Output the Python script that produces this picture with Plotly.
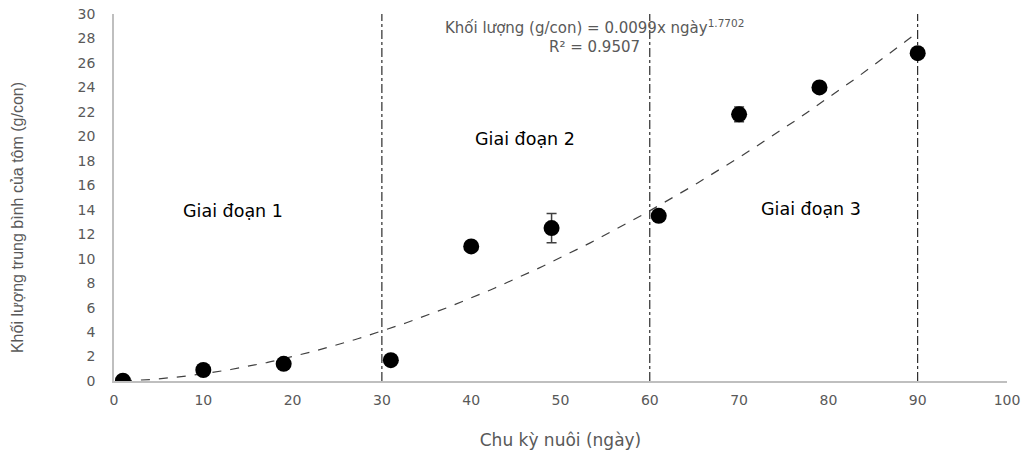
import numpy as np
import plotly.graph_objects as go

# Data
days = [1, 10, 19, 31, 40, 49, 61, 70, 79, 90]
weight = [0.02, 0.9, 1.4, 1.7, 11.0, 12.5, 13.5, 21.8, 24.0, 26.8]
weight_err = [0, 0, 0, 0, 0, 1.2, 0, 0.6, 0, 0]

# Power trendline coefficients from the chart label
coef_a = 0.0099
coef_b = 1.7702
trend_x = np.linspace(1, 90, 200)
trend_y = coef_a * trend_x ** coef_b

phase_bounds = [30, 60, 90]
phase_labels = ["Giai đoạn 1", "Giai đoạn 2", "Giai đoạn 3"]
phase_pos = [(13.3, 13.9), (46.0, 19.8), (78.0, 14.1)]

x_ticks = list(range(0, 101, 10))
y_ticks = list(range(0, 31, 2))

FONT = "DejaVu Sans"
GRAY = "#595959"

fig = go.Figure()

for xb in phase_bounds:
    fig.add_trace(go.Scatter(x=[xb, xb], y=[0, 30], mode="lines",
                             line=dict(color="black", width=1, dash="dashdot"),
                             hoverinfo="skip", showlegend=False))

fig.add_trace(go.Scatter(x=trend_x, y=trend_y, mode="lines",
                         line=dict(color="#404040", width=1.2, dash="dash"),
                         showlegend=False))

fig.add_trace(go.Scatter(x=days, y=weight, mode="markers",
                         marker=dict(color="black", size=16, symbol="circle"),
                         error_y=dict(type="data", array=weight_err, visible=True,
                                      color="#404040", thickness=1.5, width=5),
                         showlegend=False))

for lab, (px, py) in zip(phase_labels, phase_pos):
    fig.add_annotation(x=px, y=py, text=lab, showarrow=False,
                       font=dict(family=FONT, size=17.5, color="black"))

fig.add_annotation(x=53.8, y=28.9,
                   text=f"Khối lượng (g/con) = {coef_a}x ngày<sup>{coef_b}</sup>",
                   showarrow=False, font=dict(family=FONT, size=15, color=GRAY))
fig.add_annotation(x=53.8, y=27.3, text="R² = 0.9507", showarrow=False,
                   font=dict(family=FONT, size=15, color=GRAY))

# y-axis title placed as a rotated annotation
fig.add_annotation(xref="paper", yref="paper", x=-0.1086, y=0.444,
                   xanchor="center", yanchor="middle",
                   text="Khối lượng trung bình của tôm (g/con)", textangle=-90,
                   showarrow=False,
                   font=dict(family="Liberation Sans Narrow, Liberation Sans", size=16, color=GRAY))

fig.update_layout(
    width=1028, height=461,
    margin=dict(l=114, r=21, t=14, b=80),
    paper_bgcolor="white", plot_bgcolor="white",
    xaxis=dict(range=[0, 100], tickvals=x_ticks, showgrid=False, zeroline=False,
               automargin=False,
               showline=True, linecolor="#bfbfbf", linewidth=1.5, ticks="",
               ticklabelstandoff=5, ticklabeloverflow="allow",
               tickfont=dict(family=FONT, size=14, color=GRAY),
               title=dict(text="Chu kỳ nuôi (ngày)", standoff=28,
                          font=dict(family=FONT, size=17, color=GRAY))),
    yaxis=dict(range=[0, 30], tickvals=y_ticks, showgrid=False, zeroline=False,
               automargin=False,
               showline=True, linecolor="#bfbfbf", linewidth=1.5, ticks="",
               ticklabelstandoff=14, ticklabeloverflow="allow",
               tickfont=dict(family=FONT, size=14, color=GRAY)),
)

fig.write_html("out.html", config={"displayModeBar": False},
               post_script="document.body.style.margin='0';")
